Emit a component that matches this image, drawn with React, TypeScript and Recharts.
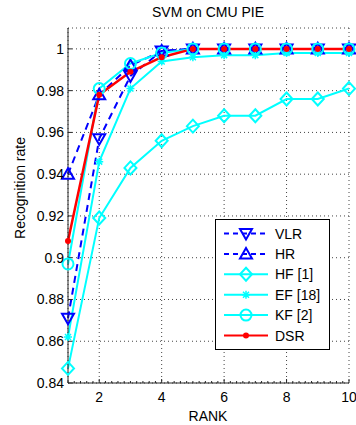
import React from "react";
import { LineChart, Line, XAxis, YAxis, CartesianGrid, Legend } from "recharts";

const ranks = [1, 2, 3, 4, 5, 6, 7, 8, 9, 10];
const vlr = [0.871, 0.957, 0.987, 0.999, 1, 1, 1, 1, 1, 1];
const hr = [0.94, 0.978, 0.992, 0.999, 1, 1, 1, 1, 1, 1];
const hf = [0.847, 0.919, 0.943, 0.956, 0.963, 0.968, 0.968, 0.976, 0.976, 0.981];
const ef = [0.862, 0.946, 0.981, 0.994, 0.996, 0.997, 0.997, 0.998, 0.998, 0.998];
const kf = [0.897, 0.981, 0.993, 0.998, 1, 1, 1, 1, 1, 1];
const dsr = [0.908, 0.978, 0.989, 0.996, 1, 1, 1, 1, 1, 1];
const xTicks = [2, 4, 6, 8, 10];
const xMinorSteps = [0, 0.2, 0.4, 0.6, 0.8];
const yTicks = [0.84, 0.86, 0.88, 0.9, 0.92, 0.94, 0.96, 0.98, 1];

const xAllTicks: number[] = [];
ranks.forEach((r) => {
  xMinorSteps.forEach((s) => {
    const v = +(r + s).toFixed(1);
    if (v <= 10) xAllTicks.push(v);
  });
});

const data = ranks.map((r, i) => ({
  rank: r,
  vlr: vlr[i],
  hr: hr[i],
  hf: hf[i],
  ef: ef[i],
  kf: kf[i],
  dsr: dsr[i],
}));

const BLUE = "#0000ff";
const CYAN = "#00ffff";
const RED = "#ff0000";
const AXIS = "#262626";
const FONT = "'Liberation Sans', Arial, sans-serif";

type MP = { cx: number; cy: number; color: string };

const TriDown = ({ cx, cy, color }: MP) => (
  <path d={`M${cx - 6},${cy - 4.5} L${cx + 6},${cy - 4.5} L${cx},${cy + 6} Z`} stroke={color} strokeWidth={2} fill="none" />
);
const TriUp = ({ cx, cy, color }: MP) => (
  <path d={`M${cx - 6},${cy + 4.5} L${cx + 6},${cy + 4.5} L${cx},${cy - 6} Z`} stroke={color} strokeWidth={2} fill="none" />
);
const Diamond = ({ cx, cy, color }: MP) => (
  <path d={`M${cx},${cy - 6.5} L${cx + 6},${cy} L${cx},${cy + 6.5} L${cx - 6},${cy} Z`} stroke={color} strokeWidth={2} fill="none" />
);
const Star = ({ cx, cy, color }: MP) => (
  <path
    d={`M${cx - 4},${cy} L${cx + 4},${cy} M${cx},${cy - 4} L${cx},${cy + 4} M${cx - 3},${cy - 3} L${cx + 3},${cy + 3} M${cx - 3},${cy + 3} L${cx + 3},${cy - 3}`}
    stroke={color}
    strokeWidth={1.5}
    fill="none"
  />
);
const Circ = ({ cx, cy, color }: MP) => <circle cx={cx} cy={cy} r={5.5} stroke={color} strokeWidth={2} fill="none" />;
const Dot = ({ cx, cy, color }: MP) => <circle cx={cx} cy={cy} r={3} fill={color} stroke="none" />;

const mk = (Comp: React.FC<MP>, color: string, name: string) => (p: any) => (
  <g key={`${name}-${p.index}`}>
    {p.cx != null && p.cy != null ? <Comp cx={p.cx} cy={p.cy} color={color} /> : null}
  </g>
);

const legendItems = [
  { label: "VLR", color: BLUE, dash: "5 4", M: TriDown },
  { label: "HR", color: BLUE, dash: "5 4", M: TriUp },
  { label: "HF [1]", color: CYAN, dash: undefined, M: Diamond },
  { label: "EF [18]", color: CYAN, dash: undefined, M: Star },
  { label: "KF [2]", color: CYAN, dash: undefined, M: Circ },
  { label: "DSR", color: RED, dash: undefined, M: Dot },
];

const LegendBox = () => (
  <svg width={115} height={131} style={{ display: "block" }}>
    <rect x={0.5} y={0.5} width={114} height={130} fill="#fff" stroke="#000" strokeWidth={1} />
    {legendItems.map((it, i) => {
      const cy = 14.5 + i * 20.4;
      const M = it.M;
      return (
        <g key={it.label}>
          <line x1={9} x2={53} y1={cy} y2={cy} stroke={it.color} strokeWidth={2} strokeDasharray={it.dash} />
          <M cx={31} cy={cy} color={it.color} />
          <text x={60} y={cy + 5} fontSize={14} fontFamily={FONT} fill="#000">
            {it.label}
          </text>
        </g>
      );
    })}
  </svg>
);

const isMajor = (v: number) => xTicks.some((t) => Math.abs(t - v) < 1e-6);

const BottomTick = (p: any) => {
  const v = p.payload?.value as number;
  const major = isMajor(v);
  return (
    <g>
      <line x1={p.x} x2={p.x} y1={p.y} y2={p.y - (major ? 4 : 2)} stroke={AXIS} strokeWidth={1} />
      {major ? (
        <text x={p.x} y={p.y + 19} textAnchor="middle" fontSize={14} fontFamily={FONT} fill="#000">
          {v}
        </text>
      ) : null}
    </g>
  );
};

const TopTick = (p: any) => {
  const v = p.payload?.value as number;
  const major = isMajor(v);
  return <line x1={p.x} x2={p.x} y1={p.y} y2={p.y + (major ? 4 : 2)} stroke={AXIS} strokeWidth={1} />;
};

const tickStyle = { fontSize: 14, fontFamily: FONT, fill: "#000" };

export default function App() {
  return (
    <div style={{ position: "absolute", left: 0, top: 0, width: 356, height: 425, background: "#fff" }}>
      <LineChart width={356} height={425} data={data} margin={{ top: 28, right: 7, bottom: 0, left: 0 }}>
        <XAxis xAxisId="grid" orientation="top" dataKey="rank" type="number" domain={[1, 10]} ticks={xTicks} height={0} hide />
        <CartesianGrid xAxisId="grid" stroke="#444" strokeDasharray="1 3" strokeWidth={1} />
        <XAxis
          dataKey="rank"
          type="number"
          domain={[1, 10]}
          ticks={xAllTicks}
          height={42}
          tick={BottomTick}
          tickLine={false}
          tickSize={0}
          tickMargin={0}
          stroke={AXIS}
          interval={0}
        />
        <XAxis
          xAxisId="top"
          orientation="top"
          dataKey="rank"
          type="number"
          domain={[1, 10]}
          ticks={xAllTicks}
          height={0}
          tick={TopTick}
          tickLine={false}
          tickSize={0}
          tickMargin={0}
          stroke={AXIS}
          interval={0}
        />
        <YAxis
          type="number"
          domain={[0.84, 1.01]}
          ticks={yTicks}
          width={68}
          tick={tickStyle}
          tickSize={-4}
          tickMargin={8}
          stroke={AXIS}
          interval={0}
          tickFormatter={(v: number) => String(+v.toFixed(2))}
        />
        <YAxis yAxisId="right" orientation="right" type="number" domain={[0.84, 1.01]} ticks={yTicks} width={0} tick={false} tickSize={-4} stroke={AXIS} />
        <Line dataKey="vlr" stroke={BLUE} strokeWidth={2} strokeDasharray="7 5" dot={mk(TriDown, BLUE, "vlr")} isAnimationActive={false} />
        <Line dataKey="hr" stroke={BLUE} strokeWidth={2} strokeDasharray="7 5" dot={mk(TriUp, BLUE, "hr")} isAnimationActive={false} />
        <Line dataKey="hf" stroke={CYAN} strokeWidth={2} dot={mk(Diamond, CYAN, "hf")} isAnimationActive={false} />
        <Line dataKey="ef" stroke={CYAN} strokeWidth={2} dot={mk(Star, CYAN, "ef")} isAnimationActive={false} />
        <Line dataKey="kf" stroke={CYAN} strokeWidth={2} dot={mk(Circ, CYAN, "kf")} isAnimationActive={false} />
        <Line dataKey="dsr" stroke={RED} strokeWidth={2.5} dot={mk(Dot, RED, "dsr")} isAnimationActive={false} />
        <Legend
          layout="horizontal"
          verticalAlign="middle"
          align="center"
          content={() => <LegendBox />}
          wrapperStyle={{ position: "absolute", left: 215, top: 219, width: 115, height: 131 }}
        />
        <text x={208} y={17} textAnchor="middle" fontSize={14} fontFamily={FONT} fill="#000">
          SVM on CMU PIE
        </text>
        <text x={25} y={188} textAnchor="middle" fontSize={14} fontFamily={FONT} fill="#000" transform="rotate(-90 25 188)">
          Recognition rate
        </text>
        <text x={208} y={421} textAnchor="middle" fontSize={14} fontFamily={FONT} fill="#000">
          RANK
        </text>
      </LineChart>
    </div>
  );
}
